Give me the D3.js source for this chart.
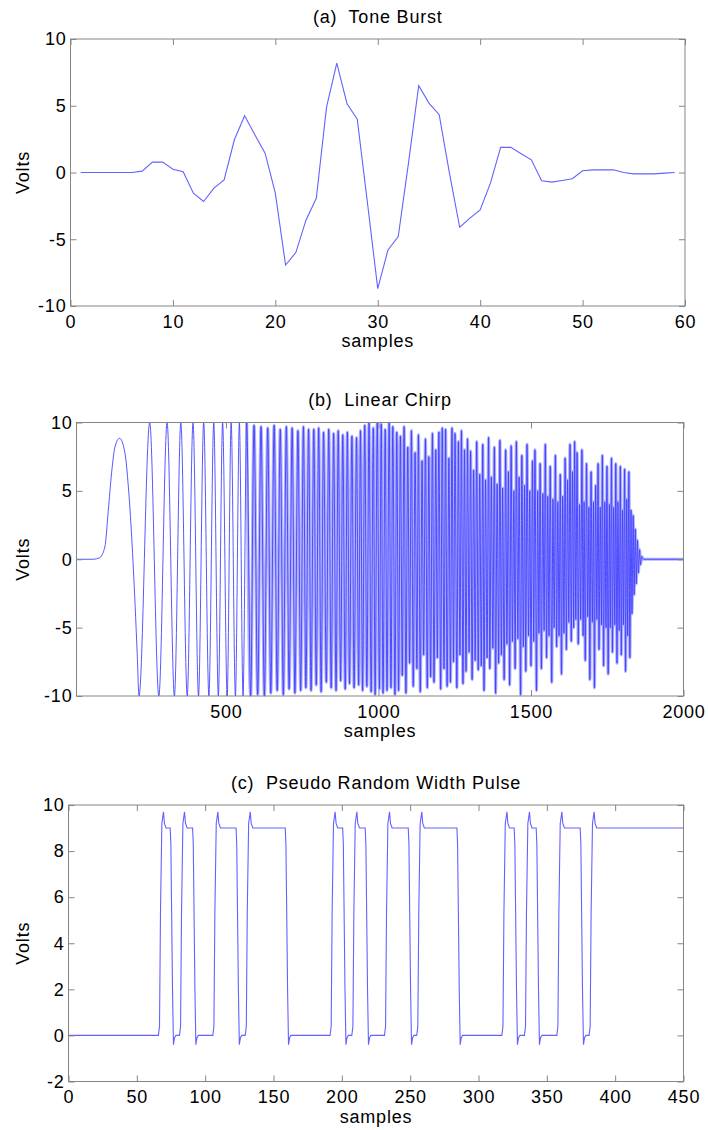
<!DOCTYPE html>
<html>
<head>
  <meta charset="UTF-8">
  <title>Test signals</title>
  <script src="https://d3js.org/d3.v7.min.js"></script>
  <style>
    body {
      margin: 0;
      padding: 0;
      background: white;
    }

    svg {
      display: block;
      font-family: "Liberation Sans", Arial, sans-serif;
    }

    .frame {
      fill: none;
      stroke: #858585;
      stroke-width: 1;
    }

    .title,
    .label {
      font-size: 18px;
      letter-spacing: 0.8px;
      fill: #000;
      white-space: pre;
    }

    .tone,
    .pulse {
      fill: none;
      stroke: #6262ff;
      stroke-width: 1.1;
    }

    .chirp-halo {
      fill: none;
      stroke: #b2b2ff;
      stroke-width: 3.2;
    }

    .chirp {
      fill: none;
      stroke: #3a3aff;
      stroke-width: 0.85;
    }
  </style>
</head>
<body>
  <svg id="chart" width="708" height="1130"></svg>

  <script>
    // (a) tone burst, one value per sample (samples 1..59)
    var toneVolts = [0, 0, 0, 0, 0, 0, 0.1, 0.78, 0.78, 0.25,
      0.05, -1.55, -2.17, -1.17, -0.55, 2.45, 4.25, 2.83, 1.45, -1.55,
      -6.93, -6.0, -3.55, -1.93, 4.9, 8.2, 5.15, 4.0, -2.3, -8.7,
      -5.8, -4.8, 0.7, 6.5, 5.2, 4.33, -0.05, -4.1, -3.42, -2.8,
      -0.8, 1.88, 1.88, 1.4, 0.95, -0.62, -0.72, -0.6, -0.47, 0.13,
      0.2, 0.2, 0.2, 0, -0.1, -0.1, -0.1, -0.05, 0];
    var toneSamples = d3.range(1, toneVolts.length + 1);

    // (b) linear chirp, turning points (sample, volts)
    var chirpSamples = [10, 65, 85, 103, 114, 125, 136, 151, 169, 180, 191, 202, 209, 215,
      250, 280, 307, 331, 352, 373, 392, 410, 427,
      444, 460, 475, 489, 504, 517, 531, 544, 556, 568,
      581, 592, 604, 615, 626, 637, 647, 658, 668, 678,
      688, 698, 707, 717, 726, 736, 745, 754, 762, 771,
      779, 788, 796, 804, 812, 820, 829, 837, 845, 853,
      861, 868, 876, 883, 891, 898, 905, 913, 920, 928,
      935, 941, 948, 955, 962, 969, 976, 983, 989, 996,
      1003, 1009, 1015, 1022, 1028, 1035, 1041, 1047, 1054, 1060,
      1066, 1072, 1078, 1084, 1090, 1096, 1102, 1108, 1114, 1120,
      1126, 1131, 1137, 1143, 1148, 1154, 1160, 1165, 1171, 1177,
      1182, 1188, 1193, 1198, 1204, 1209, 1215, 1220, 1225, 1231,
      1236, 1241, 1246, 1251, 1257, 1262, 1267, 1272, 1277, 1282,
      1287, 1292, 1297, 1302, 1307, 1312, 1317, 1322, 1327, 1332,
      1337, 1342, 1346, 1351, 1356, 1361, 1365, 1370, 1375, 1380,
      1384, 1389, 1394, 1398, 1403, 1407, 1412, 1417, 1421, 1426,
      1430, 1435, 1439, 1444, 1448, 1452, 1457, 1461, 1466, 1470,
      1475, 1479, 1483, 1487, 1492, 1496, 1500, 1505, 1509, 1513,
      1518, 1522, 1526, 1530, 1534, 1539, 1543, 1547, 1551, 1555,
      1559, 1563, 1568, 1572, 1576, 1580, 1584, 1588, 1592, 1596,
      1600, 1604, 1608, 1612, 1616, 1620, 1624, 1628, 1632, 1636,
      1640, 1643, 1647, 1651, 1655, 1659, 1663, 1667, 1671, 1674,
      1678, 1682, 1686, 1690, 1693, 1697, 1701, 1705, 1708, 1712,
      1716, 1720, 1723, 1727, 1731, 1734, 1738, 1742, 1746, 1749,
      1753, 1757, 1760, 1764, 1767, 1771, 1775, 1778, 1782, 1785,
      1789, 1793, 1796, 1800, 1803, 1807, 1810, 1814, 1817, 1821,
      1824, 1828, 1831, 1835, 1838, 1842, 1845, 1849, 1852, 1856, 1859, 1863,
      1868, 2000];
    var chirpVolts = [0, 0, 0.1, 0.9, 3.5, 6.3, 8.2, 8.85, 7.75, 5.3, 1.6, -3.3, -6.9, -10,
      10, -10, 10, -10, 10, -10, 10, -10, 10,
      -10, 10, -10, 10, -10, 10, -10, 10, -10, 10,
      -10, 9.8, -9.9, 9.7, -10, 9.6, -9.8, 9.8, -9.6, 9.5,
      -9.9, 9.7, -9.5, 9.6, -9.8, 9.4, -9.6, 9.7, -9.4, 9.5,
      -9.6, 9.5, -9.2, 9.6, -9.7, 9.3, -9.0, 9.5, -9.4, 9.2,
      -9.6, 9.4, -8.9, 9.1, -9.5, 9.3, -9.1, 9.0, -9.4, 8.9,
      -9.2, 9.4, -9.6, 9.8, -9.3, 10, -9.7, 9.6, -9.9, 10,
      -9.5, 9.9, -9.8, 9.5, -9.6, 10, -9.4, 9.7, -9.9, 9.3,
      -9.6, 9.0, -8.5, 9.7, -9.8, 8.2, -7.6, 9.4, -9.3, 7.8,
      -8.0, 9.1, -9.7, 7.2, -7.0, 8.8, -9.4, 7.5, -8.6, 9.2,
      -9.0, 8.0, -7.2, 9.3, -9.5, 9.6, -8.0, 9.5, -9.3, 7.4,
      -9.0, 9.6, -7.5, 9.2, -9.4, 8.6, -7.0, 9.4, -9.1, 8.0,
      -8.2, 8.8, -6.8, 7.9, -8.8, 6.5, -7.4, 8.6, -8.1, 6.2,
      -7.8, 8.4, -9.6, 5.8, -7.2, 8.9, -8.0, 6.0, -6.5, 8.2,
      -9.8, 5.5, -7.6, 8.7, -7.0, 5.2, -8.8, 8.0, -6.2, 6.4,
      -9.2, 8.3, -6.0, 5.0, -8.0, 8.6, -5.8, 6.0, -9.9, 7.6,
      -6.4, 5.4, -8.2, 8.4, -5.6, 5.0, -7.8, 7.2, -6.0, 8.0,
      -9.6, 5.0, -5.4, 7.0, -8.0, 4.8, -5.2, 8.4, -7.2, 4.6,
      -5.6, 6.8, -9.0, 4.4, -5.0, 7.6, -6.4, 4.2, -5.6, 6.2,
      -8.4, 4.6, -5.4, 7.4, -6.6, 5.8, -4.6, 8.4, -6.0, 6.4,
      -5.0, 8.6, -4.4, 7.8, -6.2, 4.0, -4.4, 8.0, -5.6, 4.2,
      -7.4, 7.0, -4.2, 3.8, -8.8, 6.4, -4.6, 4.2, -9.4, 5.4,
      -4.4, 7.0, -6.6, 3.8, -4.8, 7.6, -7.8, 4.2, -5.0, 6.8,
      -8.4, 4.0, -5.0, 7.4, -6.8, 3.8, -4.8, 7.0, -7.6, 4.2,
      -5.2, 6.8, -7.0, 3.6, -4.8, 6.6, -8.2, 4.4, -5.6, 6.4,
      -7.2, 3.6, -4.0, 3.2, -2.6, 2.2, -1.8, 1.4, -1.0, 0.7, -0.4, 0.2,
      0, 0];
    // the trace only blurs into a filled band once the cycles get close together
    var chirpDenseFrom = 560;

    // (c) pulse train: edge times and the edge shapes
    var pulseRiseAt = [65.8, 81.2, 105.6, 129.3, 191.4, 207.3, 231.2, 254.8, 317.1, 333.6, 357.3, 380.9];
    var pulseFallAt = [74.4, 90.8, 122.6, 158.6, 200.6, 217.1, 248.6, 284.2, 326.1, 342.2, 374.4];
    var riseOffsets = [0, 0.8, 1.5, 2.5, 3.7, 4.4, 5.6];
    var riseVolts = [0, 0.4, 5.3, 9.2, 9.7, 9.2, 9.0];
    var fallOffsets = [0, 0.5, 1.7, 2.4, 3.2, 4.2];
    var fallVolts = [9.0, 8.3, 2.0, -0.4, -0.1, 0];
    var pulseFirst = [0, 0];
    var pulseLast = [450, 9.0];

    var toneTicksX = [0, 10, 20, 30, 40, 50, 60];
    var toneTicksY = [-10, -5, 0, 5, 10];
    var chirpTicksX = [500, 1000, 1500, 2000];
    var chirpTicksY = [-10, -5, 0, 5, 10];
    var pulseTicksX = [0, 50, 100, 150, 200, 250, 300, 350, 400, 450];
    var pulseTicksY = [-2, 0, 2, 4, 6, 8, 10];

    var titles = ["(a)  Tone Burst", "(b)  Linear Chirp", "(c)  Pseudo Random Width Pulse"];

    var svg = d3.select("#chart");
    var plain = d => String(d);   // plain hyphen minus, no thousands comma

    // layers: [class, points] pairs drawn in order
    function drawPanel(id, box, xDomain, yDomain, xTicks, yTicks, title, layers, curve) {
      var x = d3.scaleLinear().domain(xDomain).range([box.left, box.right]);
      var y = d3.scaleLinear().domain(yDomain).range([box.bottom, box.top]);
      var g = svg.append("g");

      g.append("clipPath")
        .attr("id", "clip-" + id)
        .append("rect")
        .attr("x", box.left)
        .attr("y", box.top - 0.5)
        .attr("width", box.right - box.left)
        .attr("height", box.bottom - box.top + 1);

      var line = d3.line()
        .x(d => x(d[0]))
        .y(d => y(d[1]))
        .curve(curve);

      layers.forEach(function (layer) {
        g.append("path")
          .datum(layer[1])
          .attr("class", layer[0])
          .attr("clip-path", "url(#clip-" + id + ")")
          .attr("d", line);
      });

      // ticks point inwards on all four sides, like the original plot
      var axes = [
        [d3.axisBottom(x).tickValues(xTicks).tickFormat(plain), "translate(0," + box.bottom + ")"],
        [d3.axisTop(x).tickValues(xTicks).tickFormat(""), "translate(0," + box.top + ")"],
        [d3.axisLeft(y).tickValues(yTicks).tickFormat(plain), "translate(" + box.left + ",0)"],
        [d3.axisRight(y).tickValues(yTicks).tickFormat(""), "translate(" + box.right + ",0)"]
      ];
      axes.forEach(function (a, i) {
        var ax = g.append("g")
          .attr("transform", a[1])
          .call(a[0].tickSizeInner(-6).tickSizeOuter(0).tickPadding(i === 0 ? 9 : 4));
        ax.select(".domain").remove();
        ax.selectAll(".tick line").attr("stroke", "#858585");
        ax.selectAll(".tick text")
          .attr("class", "label")
          .attr("fill", null);
        ax.attr("font-family", null).attr("font-size", null);
      });

      g.append("rect")
        .attr("class", "frame")
        .attr("x", box.left)
        .attr("y", box.top)
        .attr("width", box.right - box.left)
        .attr("height", box.bottom - box.top);

      var cx = (box.left + box.right) / 2;
      g.append("text")
        .attr("class", "title")
        .attr("x", cx)
        .attr("y", box.top - 22.5)
        .attr("dy", "0.36em")
        .attr("text-anchor", "middle")
        .text(title);

      g.append("text")
        .attr("class", "label")
        .attr("x", cx)
        .attr("y", box.bottom + 41)
        .attr("text-anchor", "middle")
        .text("samples");

      g.append("text")
        .attr("class", "label")
        .attr("transform", "translate(23," + (box.top + box.bottom) / 2 + ") rotate(-90)")
        .attr("dy", "0.36em")
        .attr("text-anchor", "middle")
        .text("Volts");
    }

    // build the point lists from the arrays above
    var tonePoints = toneSamples.map((s, i) => [s, toneVolts[i]]);
    var chirpPoints = chirpSamples.map((s, i) => [s, chirpVolts[i]]);
    var chirpDense = chirpPoints.filter(p => p[0] >= chirpDenseFrom);

    var pulsePoints = [pulseFirst];
    pulseRiseAt.forEach(function (r, i) {
      riseOffsets.forEach((o, j) => pulsePoints.push([r + o, riseVolts[j]]));
      if (i < pulseFallAt.length) {
        fallOffsets.forEach((o, j) => pulsePoints.push([pulseFallAt[i] + o, fallVolts[j]]));
      }
    });
    pulsePoints.push(pulseLast);

    drawPanel("a", { left: 70.5, right: 685, top: 39, bottom: 306 },
      [0, 60], [-10, 10], toneTicksX, toneTicksY, titles[0],
      [["tone", tonePoints]], d3.curveLinear);

    drawPanel("b", { left: 76.5, right: 683.5, top: 422.5, bottom: 696 },
      [10, 2000], [-10, 10], chirpTicksX, chirpTicksY, titles[1],
      [["chirp-halo", chirpDense], ["chirp", chirpPoints]], d3.curveMonotoneX);

    drawPanel("c", { left: 68.5, right: 683.5, top: 805, bottom: 1081.5 },
      [0, 450], [-2, 10], pulseTicksX, pulseTicksY, titles[2],
      [["pulse", pulsePoints]], d3.curveLinear);
  </script>
</body>
</html>
